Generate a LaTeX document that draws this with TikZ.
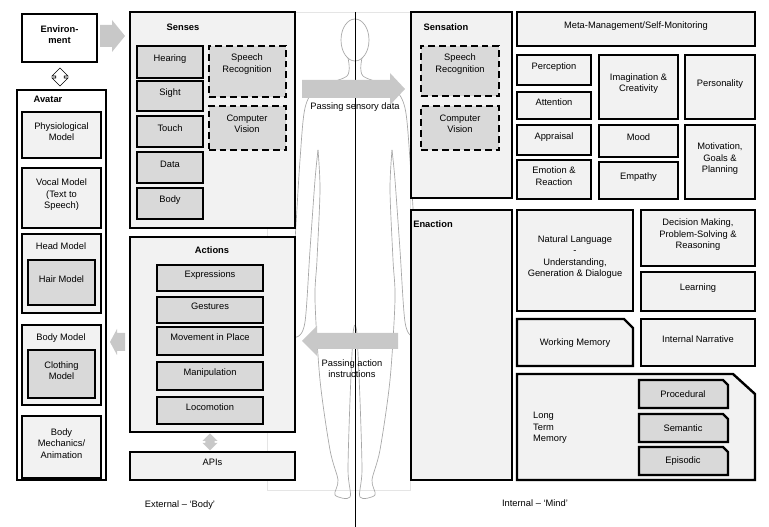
\documentclass[tikz,border=0pt]{standalone}
\usepackage{fontspec}
\setmainfont{Liberation Sans}
\usetikzlibrary{fit,shapes.arrows}
\definecolor{outerfill}{HTML}{F2F2F2}
\definecolor{innerfill}{HTML}{D9D9D9}
\definecolor{arrowgrey}{HTML}{C8C8C8}
\tikzset{
  obox/.style={draw, line width=1.8pt, fill=outerfill, inner sep=0pt, align=center, font=\fontsize{7}{8.5}\selectfont},
  ibox/.style={obox, fill=innerfill},
  dbox/.style={ibox, dash pattern=on 5pt off 3pt},
  ttl/.style={font=\fontsize{7}{8.5}\selectfont\bfseries},
  lbl/.style={font=\fontsize{7}{8.5}\selectfont, align=center},
  garrow/.style={fill=arrowgrey, draw=none}
}
\begin{document}
\begin{tikzpicture}[x=0.75pt,y=-0.75pt]
\useasboundingbox[fill=white] (0,0) rectangle (769,527);
%BODY FIGURE
\draw[gray!20] (267,12) rectangle (410,490);
\begin{scope}[gray!70, line width=0.5pt]
  \draw (355,40) ellipse (14 and 21);
  \foreach \s in {1,-1}{
  \begin{scope}[xshift=355*0.75pt, xscale=\s]
    \draw plot[smooth] coordinates {(7,58) (8,76) (38,88) (50,108) (55,160) (60,240) (65,300) (66,330) (58,337) (50,322) (45,250) (40,180) (37,150)};
    \draw plot[smooth] coordinates {(37,150) (35,190) (38,260) (40,300) (35,380) (25,450) (17,480) (20,495) (5,497) (7,470) (5,400) (2,335) (0,325)};
  \end{scope}}
\end{scope}
\draw (355,12) -- (355,527);
%ENVIRONMENT AND AVATAR
\node[obox, fill=white, fit={(22,14) (97,62)}] (env) {\bfseries Environ-\\\bfseries ment};
\node[double arrow, draw, fill=white, rotate=90, minimum height=18*0.75pt, minimum width=16*0.75pt, inner sep=1.5pt, double arrow head extend=1.5pt] (envlink) at (60,77) {};
\draw[garrow] (100,25) -- (112,25) -- (112,20) -- (125,36) -- (112,52) -- (112,47) -- (100,47) -- cycle;
\node[obox, fill=white, fit={(17,90) (106,480)}] (avatar) {};
\node[ttl] (avatartitle) at (48,99) {Avatar};
\node[obox, fit={(22,112) (101,158)}] (physio) {Physiological\\Model};
\node[obox, fit={(22,168) (101,228)}] (vocal) {Vocal Model\\(Text to\\Speech)};
\node[obox, fit={(22,234) (101,313)}] (head) {};
\node[lbl] at (61,246) {Head Model};
\node[ibox, fit={(28,260) (95,305)}] (hair) {Hair Model};
\node[obox, fit={(22,325) (101,405)}] (bodymodel) {};
\node[lbl] at (61,338) {Body Model};
\node[ibox, fit={(28,350) (95,398)}] (clothing) {Clothing\\Model};
\node[obox, fit={(22,416) (101,478)}] (mechanics) {Body\\Mechanics/\\Animation};
%SENSES AND ACTIONS
\node[obox, fit={(130,12) (295,228)}] (senses) {};
\node[ttl] at (183,27) {Senses};
\node[ibox, fit={(137,46) (203,78)}] (hearing) {Hearing};
\node[ibox, fit={(137,81) (203,111)}] (sight) {Sight};
\node[ibox, fit={(137,116) (203,147)}] (touch) {Touch};
\node[ibox, fit={(137,152) (203,183)}] (data) {Data};
\node[ibox, fit={(137,188) (203,219)}] (body) {Body};
\node[dbox, fit={(209,46) (286,97)}] (speech) {};
\node[lbl] at (247,64) {Speech\\Recognition};
\node[dbox, fit={(209,106) (286,150)}] (vision) {};
\node[lbl] at (247,124) {Computer\\Vision};
\node[obox, fit={(130,237) (295,432)}] (actions) {};
\node[ttl] at (212,250) {Actions};
\node[ibox, fit={(157,265) (263,291)}] (expr) {Expressions};
\node[ibox, fit={(157,297) (263,323)}] (gest) {Gestures};
\node[ibox, fit={(157,327) (263,355)}] (move) {Movement in Place};
\node[ibox, fit={(157,362) (263,390)}] (manip) {Manipulation};
\node[ibox, fit={(157,397) (263,424)}] (loco) {Locomotion};
\draw[garrow] (125,333) -- (125,351) -- (117,351) -- (117,355) -- (110,342) -- (117,329) -- (117,333) -- cycle;
\node[double arrow, fill=arrowgrey, rotate=90, minimum height=17*0.75pt, minimum width=15*0.75pt, inner sep=1.5pt, double arrow head extend=1pt] (apilink) at (210,442) {};
\node[obox, fit={(130,452) (295,480)}] (apis) {APIs};
%PASSING ARROWS
\draw[garrow] (302,80) -- (390,80) -- (390,73) -- (405,89) -- (390,105) -- (390,98) -- (302,98) -- cycle;
\node[lbl] (sensorytext) at (355,107) {Passing sensory data};
\draw[garrow] (398,333) -- (317,333) -- (317,326) -- (302,341) -- (317,356) -- (317,349) -- (398,349) -- cycle;
\node[lbl] (actiontext) at (352,369) {Passing action\\instructions};
%SENSATION AND ENACTION
\node[obox, fit={(411,12) (512,198)}] (sensation) {};
\node[ttl] at (446,27) {Sensation};
\node[dbox, fit={(421,46) (499,96)}] (speech2) {};
\node[lbl] at (460,64) {Speech\\Recognition};
\node[dbox, fit={(421,106) (499,150)}] (vision2) {};
\node[lbl] at (460,124) {Computer\\Vision};
\node[obox, fit={(411,210) (512,480)}] (enaction) {};
\node[ttl] at (433,224) {Enaction};
%MIND
\node[obox, fit={(517,12) (755,46)}] (meta) {Meta-Management/Self-Monitoring};
\node[obox, fit={(517,55) (591,85)}] (perception) {Perception};
\node[obox, fit={(517,92) (591,119)}] (attention) {Attention};
\node[obox, fit={(599,55) (678,119)}] (imagination) {Imagination \&\\Creativity};
\node[obox, fit={(685,55) (755,119)}] (personality) {Personality};
\node[obox, fit={(517,125) (591,155)}] (appraisal) {Appraisal};
\node[obox, fit={(517,160) (591,199)}] (emotion) {Emotion \&\\Reaction};
\node[obox, fit={(599,125) (678,157)}] (mood) {Mood};
\node[obox, fit={(599,162) (678,199)}] (empathy) {Empathy};
\node[obox, fit={(685,125) (755,199)}] (motivation) {Motivation,\\Goals \&\\Planning};
\node[obox, fit={(517,210) (633,311)}] (language) {Natural Language\\-\\Understanding,\\Generation \& Dialogue};
\node[obox, fit={(641,210) (755,266)}] (decision) {Decision Making,\\Problem-Solving \&\\Reasoning};
\node[obox, fit={(641,272) (755,311)}] (learning) {Learning};
\draw[obox] (517,319) -- (624,319) -- (633,328) -- (633,366) -- (517,366) -- cycle;
\node[lbl] (working) at (575,343) {Working Memory};
\node[obox, fit={(641,319) (755,366)}] (narrative) {Internal Narrative};
\draw[obox] (517,374) -- (733,374) -- (755,394) -- (755,480) -- (517,480) -- cycle;
\node[lbl, align=left] (longterm) at (550,428) {Long\\Term\\Memory};
\foreach \y/\n/\t in {380/proc/Procedural, 414/sem/Semantic, 447/epi/Episodic}{
  \draw[obox, fill=innerfill] (639,\y) -- (723,\y) -- (728,\y+5) -- (728,\y+28) -- (639,\y+28) -- cycle;
  \node[lbl] (\n) at (683,\y+14) {\t};
}
\node[lbl] (external) at (180,505) {External -- `Body'};
\node[lbl] (internal) at (535,503) {Internal -- `Mind'};
\end{tikzpicture}
\end{document}
